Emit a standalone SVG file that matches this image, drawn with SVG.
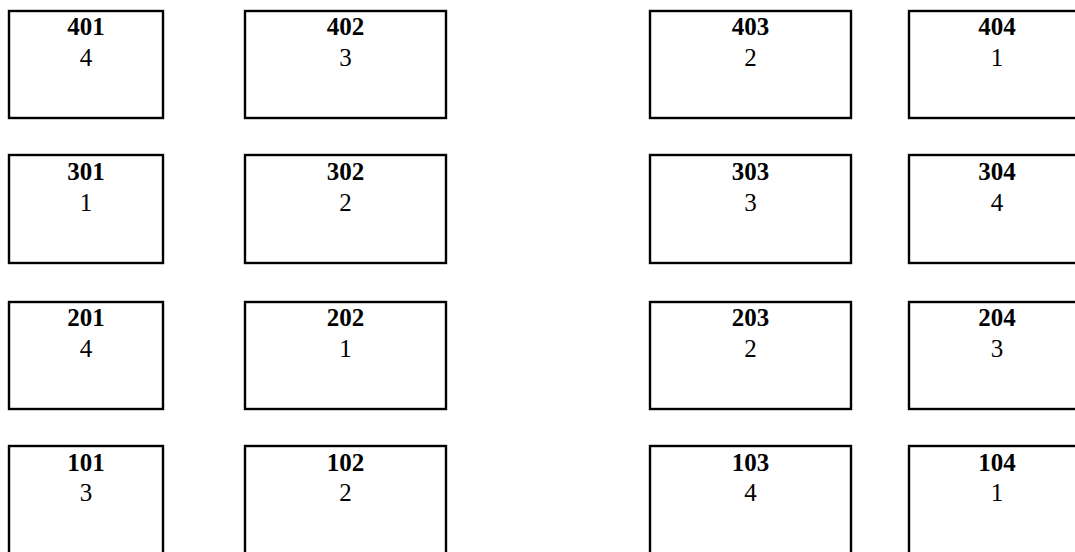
<svg xmlns="http://www.w3.org/2000/svg" width="1075" height="552" viewBox="0 0 1075 552">
<style>
.b{fill:#fff;stroke:#000;stroke-width:2.4}
.t{font-family:"Liberation Serif","Times New Roman",serif;font-size:25px;text-anchor:middle;fill:#000}
.n{font-weight:bold}
</style>
<rect width="1075" height="552" fill="#fff"/>
<g id="n401"><rect class="b" x="9" y="11" width="154" height="107"/><text class="t n" x="86" y="35">401</text><text class="t" x="86" y="66">4</text></g>
<g id="n402"><rect class="b" x="245" y="11" width="201" height="107"/><text class="t n" x="345.5" y="35">402</text><text class="t" x="345.5" y="66">3</text></g>
<g id="n403"><rect class="b" x="650" y="11" width="201" height="107"/><text class="t n" x="750.5" y="35">403</text><text class="t" x="750.5" y="66">2</text></g>
<g id="n404"><rect class="b" x="909" y="11" width="178" height="107"/><text class="t n" x="997" y="35">404</text><text class="t" x="997" y="66">1</text></g>
<g id="n301"><rect class="b" x="9" y="155" width="154" height="108"/><text class="t n" x="86" y="180">301</text><text class="t" x="86" y="211">1</text></g>
<g id="n302"><rect class="b" x="245" y="155" width="201" height="108"/><text class="t n" x="345.5" y="180">302</text><text class="t" x="345.5" y="211">2</text></g>
<g id="n303"><rect class="b" x="650" y="155" width="201" height="108"/><text class="t n" x="750.5" y="180">303</text><text class="t" x="750.5" y="211">3</text></g>
<g id="n304"><rect class="b" x="909" y="155" width="178" height="108"/><text class="t n" x="997" y="180">304</text><text class="t" x="997" y="211">4</text></g>
<g id="n201"><rect class="b" x="9" y="302" width="154" height="107"/><text class="t n" x="86" y="326">201</text><text class="t" x="86" y="357">4</text></g>
<g id="n202"><rect class="b" x="245" y="302" width="201" height="107"/><text class="t n" x="345.5" y="326">202</text><text class="t" x="345.5" y="357">1</text></g>
<g id="n203"><rect class="b" x="650" y="302" width="201" height="107"/><text class="t n" x="750.5" y="326">203</text><text class="t" x="750.5" y="357">2</text></g>
<g id="n204"><rect class="b" x="909" y="302" width="178" height="107"/><text class="t n" x="997" y="326">204</text><text class="t" x="997" y="357">3</text></g>
<g id="n101"><rect class="b" x="9" y="446" width="154" height="108"/><text class="t n" x="86" y="471">101</text><text class="t" x="86" y="501">3</text></g>
<g id="n102"><rect class="b" x="245" y="446" width="201" height="108"/><text class="t n" x="345.5" y="471">102</text><text class="t" x="345.5" y="501">2</text></g>
<g id="n103"><rect class="b" x="650" y="446" width="201" height="108"/><text class="t n" x="750.5" y="471">103</text><text class="t" x="750.5" y="501">4</text></g>
<g id="n104"><rect class="b" x="909" y="446" width="178" height="108"/><text class="t n" x="997" y="471">104</text><text class="t" x="997" y="501">1</text></g>
<g id="connectors"></g>
</svg>
